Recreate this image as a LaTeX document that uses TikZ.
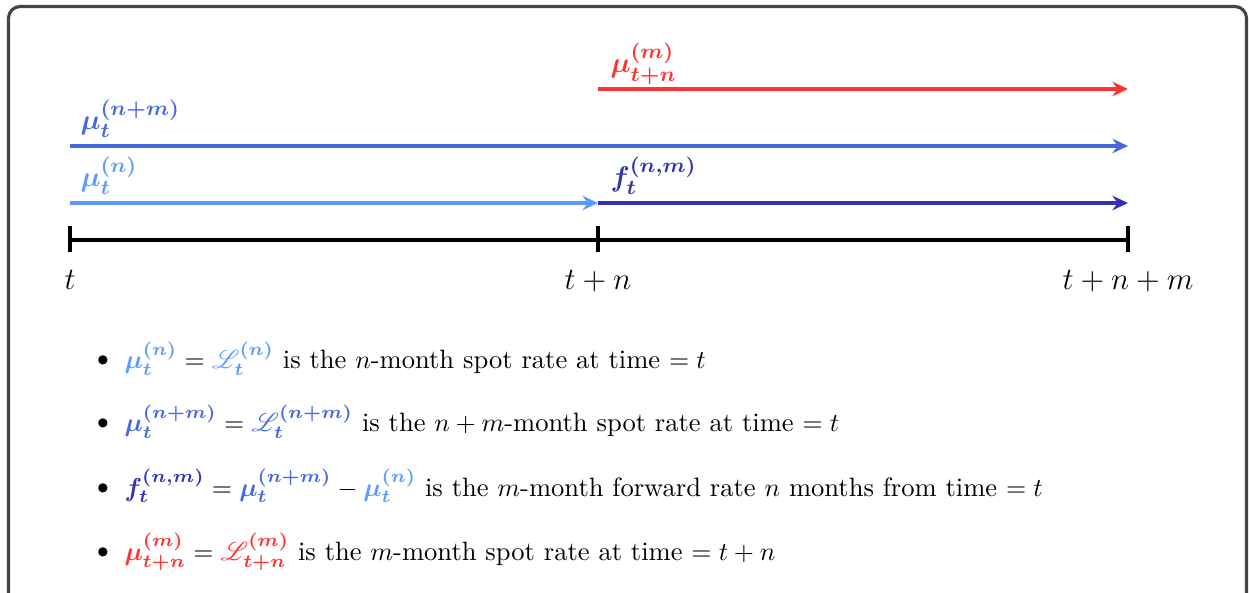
\documentclass[tikz,border=0pt]{standalone}
\usepackage{amsmath,bm,mathrsfs}
\usetikzlibrary{arrows.meta}
\definecolor{cA}{RGB}{95,155,255}
\definecolor{cB}{RGB}{70,105,222}
\definecolor{cC}{RGB}{50,50,178}
\definecolor{cR}{RGB}{255,51,51}
\definecolor{frameC}{RGB}{68,68,68}
\tikzset{
  rate/.style={line width=1.3pt,-{Stealth[length=6pt,width=5.6pt,inset=2pt]}},
  axis/.style={line width=1.5pt,black},
  tick/.style={line width=1.5pt,black},
  tlabel/.style={anchor=base,inner sep=0pt,font=\large},
  alabel/.style={anchor=base west,inner sep=0pt,font=\fontsize{11.3}{13.5}\selectfont},
  bul/.style={anchor=base west,inner sep=0pt,font=\fontsize{10.25}{12.5}\selectfont},
  dot/.style={anchor=base,inner sep=0pt,font=\fontsize{13}{15}\selectfont},
}
\newcommand{\bb}[1]{\boldsymbol{#1}}
\begin{document}
\begin{tikzpicture}[x=0.386pt,y=-0.386pt]
\useasboundingbox (0,0) rectangle (1249,593);
\draw[frameC,line width=1.2pt,rounded corners=4.5pt] (8.5,6.5) rectangle (1246.5,606);
% timeline
\coordinate (T0) at (70,240);
\coordinate (T1) at (598,240);
\coordinate (T2) at (1128,240);
\draw[axis] (T0) -- (T2);
\foreach \p in {T0,T1,T2}{
  \draw[tick] ([yshift=5.5pt]\p) -- ([yshift=-4.5pt]\p);
}
\node[tlabel] (L0) at (70,290) {$t$};
\node[tlabel] (L1) at (598,290) {$t+n$};
\node[tlabel] (L2) at (1128,290) {$t+n+m$};
% arrows
\coordinate (a0) at (70,203);
\coordinate (a1) at (598,203);
\coordinate (a2) at (1128,203);
\coordinate (b0) at (70,146);
\coordinate (b2) at (1128,146);
\coordinate (r1) at (598,89);
\coordinate (r2) at (1128,89);
\draw[rate,cA] (a0) -- (a1);
\draw[rate,cC] (a1) -- (a2);
\draw[rate,cB] (b0) -- (b2);
\draw[rate,cR] (r1) -- (r2);
\node[alabel,cA] (lA) at (80,187) {$\bb{\mu_t^{(n)}}$};
\node[alabel,cC] (lC) at (610,187) {$\bb{f_t^{(n,m)}}$};
\node[alabel,cB] (lB) at (80,130) {$\bb{\mu_t^{(n+m)}}$};
\node[alabel,cR] (lR) at (610,73) {$\bb{\mu_{t+n}^{(m)}}$};
% bullets
\foreach \y [count=\i] in {369,432,496,560}{
  \node[dot] (d\i) at (103,\y) {\textbullet};
}
\node[bul] (s1) at (124,369) {${\color{cA}\bb{\mu_t^{(n)}}}={\color{cA}\mathscr{L}_{\bb{t}}^{\bb{(n)}}}$ is the $n$-month spot rate at time $=t$};
\node[bul] (s2) at (124,432) {${\color{cB}\bb{\mu_t^{(n+m)}}}={\color{cB}\mathscr{L}_{\bb{t}}^{\bb{(n+m)}}}$ is the $n+m$-month spot rate at time $=t$};
\node[bul] (s3) at (124,496) {${\color{cC}\bb{f_t^{(n,m)}}}={\color{cB}\bb{\mu_t^{(n+m)}}}-{\color{cA}\bb{\mu_t^{(n)}}}$ is the $m$-month forward rate $n$ months from time $=t$};
\node[bul] (s4) at (124,560) {${\color{cR}\bb{\mu_{t+n}^{(m)}}}={\color{cR}\mathscr{L}_{\bb{t+n}}^{\bb{(m)}}}$ is the $m$-month spot rate at time $=t+n$};
\end{tikzpicture}
\end{document}
